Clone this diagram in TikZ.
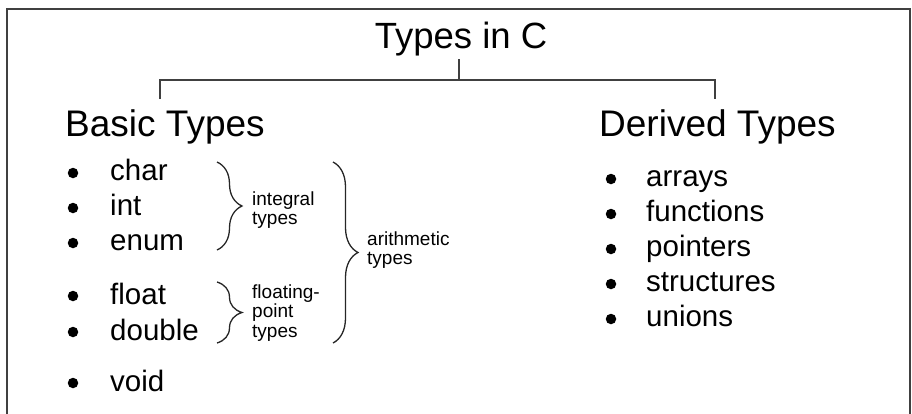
\documentclass[tikz,border=0pt]{standalone}
\usepackage{fontspec}
\setmainfont{Liberation Sans}
\usetikzlibrary{decorations.pathreplacing}

\tikzset{
  title/.style={anchor=base,inner sep=0pt,font=\fontsize{36.5}{40}\selectfont},
  head/.style={anchor=base west,inner sep=0pt,font=\fontsize{37}{40}\selectfont},
  item/.style={anchor=base west,inner sep=0pt,font=\fontsize{29.5}{32}\selectfont},
  note/.style={anchor=north west,inner sep=0pt,align=left,font=\fontsize{19}{19.5}\selectfont},
  dot/.style={circle,fill=black,inner sep=0pt,minimum size=10.5pt},
  tree/.style={line width=1.8pt,draw=black!75},
  curly/.style={decorate,decoration={brace,amplitude=25pt},line width=1.3pt,draw=black!85}
}

\begin{document}
\begin{tikzpicture}[x=1pt,y=-1pt]
        \useasboundingbox (0,0) rectangle (912,413);
        \draw[line width=2pt, black!75] (7,414) -- (7,9) -- (910,9) -- (910,414);
        %% \draw[step=10pt,gray,very thin] (0,0) grid (912,413);
        \node[title] (root)    at ( 461 ,  48 ) {Types in C};
        \node[head]  (basic)   at (  65 , 136 ) {Basic Types};
        \node[head]  (derived) at ( 599 , 136 ) {Derived Types};
        \coordinate (stem)    at ( 459 ,  59 );
        \coordinate (fork)    at ( 459 ,  80 );
        \coordinate (btop)    at ( 160 ,  99 );
        \coordinate (dtop)    at ( 715 ,  99 );
        \draw[tree] (stem) -- (fork);
        \draw[tree] (btop) |- (fork) -| (dtop);

        \node[item] (char)   at ( 110 , 180 ) {char};
        \node[item] (int)    at ( 110 , 215 ) {int};
        \node[item] (enum)   at ( 110 , 250 ) {enum};
        \node[item] (float)  at ( 110 , 304 ) {float};
        \node[item] (double) at ( 110 , 340 ) {double};
        \node[item] (void)   at ( 110 , 391 ) {void};
        \node[dot]  (bchar)   at (  73 , 173 ) {};
        \node[dot]  (bint)    at (  73 , 208 ) {};
        \node[dot]  (benum)   at (  73 , 243 ) {};
        \node[dot]  (bfloat)  at (  73 , 296 ) {};
        \node[dot]  (bdouble) at (  73 , 332 ) {};
        \node[dot]  (bvoid)   at (  73 , 383 ) {};

        \node[item] (arrays)     at ( 646 , 186 ) {arrays};
        \node[item] (functions)  at ( 646 , 221 ) {functions};
        \node[item] (pointers)   at ( 646 , 256 ) {pointers};
        \node[item] (structures) at ( 646 , 291 ) {structures};
        \node[item] (unions)     at ( 646 , 326 ) {unions};
        \node[dot]  (barrays)     at ( 611 , 179 ) {};
        \node[dot]  (bfunctions)  at ( 611 , 214 ) {};
        \node[dot]  (bpointers)   at ( 611 , 249 ) {};
        \node[dot]  (bstructures) at ( 611 , 284 ) {};
        \node[dot]  (bunions)     at ( 611 , 319 ) {};

        \draw[curly] (217,162) -- (217,250);
        \draw[curly] (217,282) -- (217,343);
        \draw[curly] (333,162) -- (333,343);
        \node[note] (integral)   at ( 252 , 191.5 ) {integral\\types};
        \node[note] (floating)   at ( 252 , 284.5 ) {floating-\\point\\types};
        \node[note] (arithmetic) at ( 367 , 231.5 ) {arithmetic\\types};
      \end{tikzpicture}
\end{document}
